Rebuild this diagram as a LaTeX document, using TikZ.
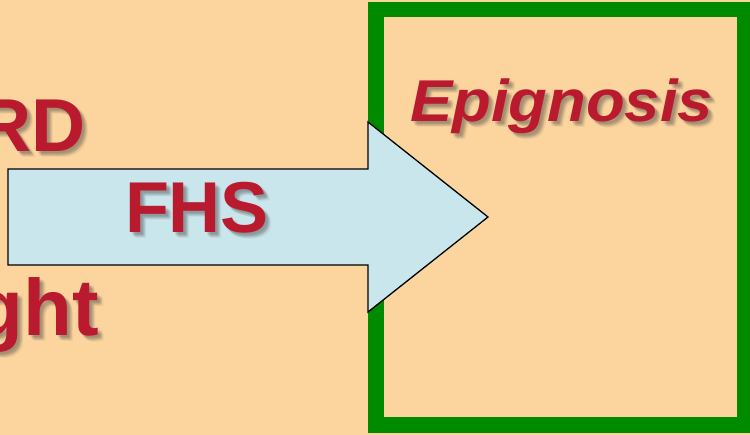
\documentclass[tikz,border=0pt]{standalone}
\usepackage{fontspec}
\setmainfont{Liberation Sans}
\definecolor{bgpeach}{HTML}{FBD49E}
\definecolor{boxgreen}{HTML}{008A00}
\definecolor{arrowblue}{HTML}{C9E6EC}
\definecolor{txtred}{HTML}{BA1A2E}
\tikzset{
  lbl/.style={inner sep=0pt, outer sep=0pt, font=\bfseries},
  frame/.style={draw=boxgreen, line width=15.5pt},
  bigarrow/.style={fill=arrowblue, draw=black, line width=1.3pt, line join=miter},
}
\newcommand{\sdtext}[4]{%
  \foreach \dx/\dy/\op in {2/2/0.10,3/3/0.10,4/4/0.10,5/5/0.08,6/6/0.06,3/5/0.06,5/3/0.06}{%
    \node[lbl,#3,text=black!75,opacity=\op,xshift=\dx pt,yshift=-\dy pt] at (#2) {#4};}
  \node[lbl,#3,text=txtred] (#1) at (#2) {#4};}
\begin{document}
\begin{tikzpicture}[x=1pt,y=-1pt]
  \useasboundingbox (0,0) rectangle (750,435);
  \clip (0,0) rectangle (750,435);
  \fill[bgpeach] (0,0) rectangle (750,435);
  % green frame
  \draw[frame] (376,9.5) rectangle (745,425);
  % texts on left
  \sdtext{rd}{86,152}{anchor=base east,font=\bfseries\fontsize{75}{75}\selectfont}{RD}
  \sdtext{ght}{99,336}{anchor=base east,font=\bfseries\fontsize{80}{80}\selectfont}{ght}
  % arrow
  \coordinate (tip) at (488,217);
  \draw[bigarrow] (8,169) -- (368,169) -- (368,122) -- (tip) -- (368,312) -- (368,265) -- (8,265) -- cycle;
  \sdtext{fhs}{125,233}{anchor=base west,font=\bfseries\fontsize{72}{72}\selectfont}{FHS}
  % box title
  \sdtext{epi}{410,122}{anchor=base west,font=\bfseries\itshape\fontsize{59}{59}\selectfont}{\scalebox{1.075}[1]{Epignosis}}
\end{tikzpicture}
\end{document}
